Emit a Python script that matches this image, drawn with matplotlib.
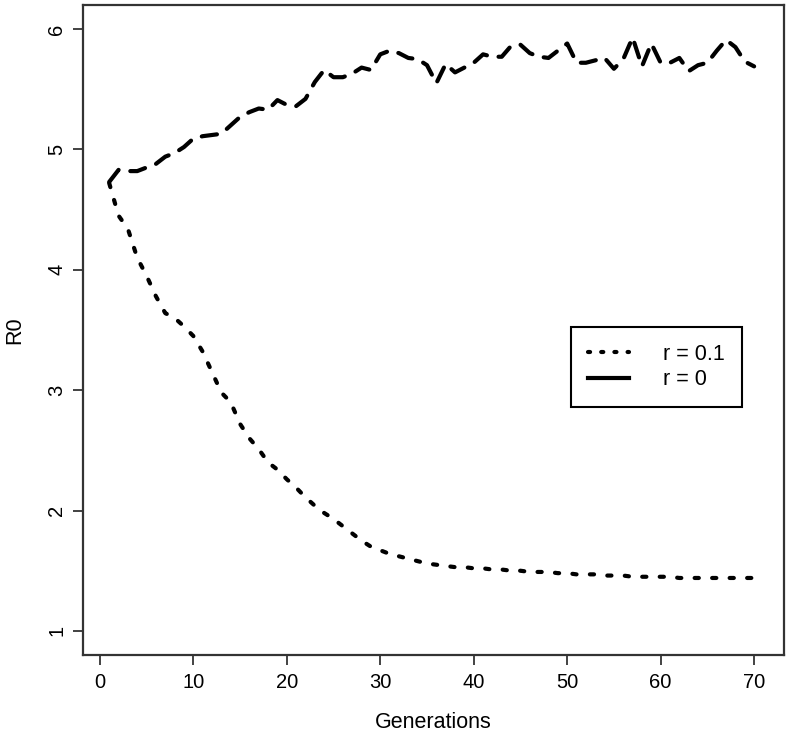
import matplotlib
matplotlib.use("Agg")
import matplotlib.pyplot as plt
from matplotlib.lines import Line2D

plt.rcParams["font.family"] = ["Liberation Sans", "DejaVu Sans"]

generations = list(range(1, 71))

r0_no_rec = [
    4.73, 4.83, 4.82, 4.82, 4.85, 4.88, 4.94, 4.97, 5.02, 5.09,
    5.11, 5.12, 5.13, 5.20, 5.27, 5.31, 5.34, 5.33, 5.41, 5.37,
    5.36, 5.42, 5.56, 5.66, 5.60, 5.60, 5.63, 5.68, 5.66, 5.79,
    5.82, 5.80, 5.76, 5.75, 5.70, 5.55, 5.71, 5.64, 5.68, 5.72,
    5.79, 5.77, 5.77, 5.86, 5.87, 5.80, 5.77, 5.76, 5.82, 5.88,
    5.72, 5.72, 5.74, 5.76, 5.67, 5.75, 5.93, 5.69, 5.88, 5.72,
    5.72, 5.76, 5.65, 5.70, 5.72, 5.82, 5.91, 5.85, 5.73, 5.69,
]

r0_rec = [
    4.72, 4.45, 4.34, 4.10, 3.95, 3.78, 3.64, 3.60, 3.53, 3.45,
    3.32, 3.15, 2.98, 2.90, 2.72, 2.60, 2.51, 2.40, 2.34, 2.26,
    2.19, 2.11, 2.04, 1.98, 1.93, 1.87, 1.81, 1.75, 1.70, 1.67,
    1.64, 1.62, 1.60, 1.58, 1.56, 1.55, 1.54, 1.53, 1.53, 1.52,
    1.52, 1.51, 1.51, 1.50, 1.50, 1.49, 1.49, 1.49, 1.48, 1.48,
    1.47, 1.47, 1.47, 1.46, 1.46, 1.46, 1.45, 1.45, 1.45, 1.45,
    1.45, 1.44, 1.44, 1.44, 1.44, 1.44, 1.44, 1.44, 1.44, 1.44,
]

labels = ["r = 0.1", "r = 0"]
xticks = [0, 10, 20, 30, 40, 50, 60, 70]
yticks = [1, 2, 3, 4, 5, 6]

plt.rcParams["lines.scale_dashes"] = False

fig = plt.figure(figsize=(7.89, 7.33), dpi=100)
ax = fig.add_axes([0.105, 0.1064, 0.8887, 0.8868])

lw = 3.0
ax.plot(generations, r0_rec, color="black", linewidth=lw,
        dashes=(3, 9.6), dash_capstyle="round", solid_capstyle="round")
ax.plot(generations, r0_no_rec, color="black", linewidth=lw,
        dashes=(11, 8.5), dash_capstyle="round", solid_capstyle="round")

ax.set_xlim(-1.82, 73.2)
ax.set_ylim(0.8, 6.2)
ax.set_xticks(xticks)
ax.set_yticks(yticks)
ax.tick_params(direction="out", length=7, width=1.2, labelsize=14.5, color="#222222")
ax.tick_params(axis="x", pad=6)
ax.tick_params(axis="y", pad=5)
for lab in ax.get_yticklabels():
    lab.set_rotation(90)
    lab.set_va("center")

for s in ax.spines.values():
    s.set_linewidth(1.6)
    s.set_color("#333333")

ax.set_xlabel("Generations", fontsize=15.5, labelpad=14)
ax.set_ylabel("R0", fontsize=15.5, labelpad=16)

handles = [
    Line2D([], [], color="black", linewidth=lw, dashes=(1.5, 8),
           dash_capstyle="round"),
    Line2D([], [], color="black", linewidth=lw),
]
leg = ax.legend(handles, labels, loc="upper left", bbox_to_anchor=(0.696, 0.505),
                fontsize=15.5, frameon=True, fancybox=False, framealpha=1,
                edgecolor="black", handlelength=1.9, handletextpad=1.6,
                borderpad=0.8, labelspacing=0.2, borderaxespad=0)
leg.get_frame().set_linewidth(1.5)

fig.savefig("out.png", dpi=100)
